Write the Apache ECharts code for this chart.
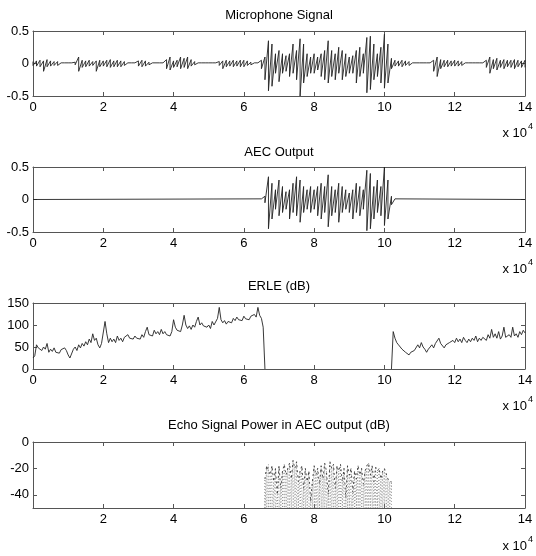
<!DOCTYPE html>
<html>
<head>
<meta charset="utf-8">
<script src="https://cdn.jsdelivr.net/npm/echarts@6/dist/echarts.min.js"></script>
<style>html,body{margin:0;padding:0;background:#fff}#c{width:536px;height:556px}</style>
</head>
<body>
<div id="c"></div>
<script>
// x values are in units of 1e4 samples
var titles = ['Microphone Signal', 'AEC Output', 'ERLE (dB)', 'Echo Signal Power in AEC output (dB)'];
var xTicks = [0, 2, 4, 6, 8, 10, 12, 14];

// Microphone signal envelope, one bin per 0.1e4 samples (0 .. 14)
var micStep = 0.1;
var micHi = [
  0.03,0.04,0.05,0.04,0.06,0.04,0.03,0.03,0.01,0.01,
  0.01,0.01,0.02,0.10,0.05,0.04,0.05,0.03,0.04,0.05,
  0.04,0.05,0.06,0.04,0.05,0.04,0.03,0.01,0.01,0.01,
  0.04,0.05,0.04,0.02,0.01,0.01,0.01,0.01,0.06,0.10,
  0.04,0.05,0.10,0.08,0.10,0.06,0.03,0.01,0.01,0.01,
  0.01,0.01,0.01,0.03,0.04,0.05,0.04,0.05,0.04,0.05,
  0.05,0.04,0.02,0.01,0.01,0.05,0.10,0.35,0.30,0.15,
  0.20,0.15,0.12,0.15,0.30,0.20,0.38,0.30,0.15,0.10,
  0.15,0.10,0.15,0.20,0.35,0.20,0.15,0.25,0.20,0.15,
  0.10,0.12,0.20,0.25,0.15,0.40,0.42,0.30,0.15,0.25,
  0.45,0.30,0.08,0.05,0.04,0.05,0.04,0.03,0.01,0.01,
  0.01,0.01,0.01,0.01,0.05,0.10,0.06,0.05,0.05,0.04,
  0.05,0.04,0.03,0.01,0.01,0.01,0.01,0.01,0.01,0.05,
  0.10,0.06,0.08,0.05,0.06,0.05,0.05,0.06,0.05,0.04,0.05
];
var micLo = [
  -0.03,-0.04,-0.05,-0.12,-0.05,-0.04,-0.03,-0.03,-0.01,-0.01,
  -0.01,-0.01,-0.02,-0.12,-0.06,-0.05,-0.04,-0.03,-0.12,-0.05,
  -0.04,-0.05,-0.06,-0.05,-0.05,-0.05,-0.03,-0.01,-0.01,-0.01,
  -0.04,-0.05,-0.04,-0.02,-0.01,-0.01,-0.01,-0.01,-0.08,-0.10,
  -0.06,-0.05,-0.08,-0.06,-0.08,-0.04,-0.02,-0.01,-0.01,-0.01,
  -0.01,-0.01,-0.01,-0.03,-0.08,-0.05,-0.04,-0.05,-0.04,-0.05,
  -0.05,-0.03,-0.02,-0.01,-0.01,-0.08,-0.25,-0.42,-0.35,-0.15,
  -0.28,-0.15,-0.12,-0.20,-0.15,-0.25,-0.50,-0.30,-0.20,-0.15,
  -0.15,-0.10,-0.20,-0.25,-0.30,-0.20,-0.25,-0.15,-0.25,-0.20,
  -0.15,-0.15,-0.30,-0.20,-0.15,-0.45,-0.40,-0.25,-0.20,-0.30,
  -0.38,-0.30,-0.08,-0.04,-0.04,-0.05,-0.03,-0.03,-0.01,-0.01,
  -0.01,-0.01,-0.01,-0.01,-0.12,-0.20,-0.08,-0.05,-0.05,-0.04,
  -0.04,-0.04,-0.03,-0.01,-0.01,-0.01,-0.01,-0.01,-0.01,-0.06,
  -0.15,-0.08,-0.10,-0.06,-0.08,-0.05,-0.06,-0.08,-0.05,-0.06,-0.06
];

// AEC output: active only 6.5 .. 10.3 (step 0.1), zero elsewhere
var aecStart = 6.5, aecStep = 0.1;
var aecHi = [0.01,0.05,0.35,0.25,0.15,0.30,0.20,0.12,0.15,0.25,0.35,0.30,0.20,0.15,0.20,0.15,0.20,0.25,0.20,0.38,0.20,0.15,0.25,0.20,0.15,0.10,0.15,0.25,0.20,0.15,0.45,0.40,0.20,0.30,0.20,0.50,0.30,0.05,0.01];
var aecLo = [-0.01,-0.05,-0.45,-0.30,-0.15,-0.25,-0.20,-0.15,-0.30,-0.20,-0.25,-0.35,-0.20,-0.15,-0.20,-0.15,-0.25,-0.30,-0.20,-0.42,-0.25,-0.20,-0.35,-0.20,-0.15,-0.20,-0.30,-0.20,-0.25,-0.15,-0.48,-0.45,-0.30,-0.20,-0.25,-0.40,-0.30,-0.08,-0.01];

// ERLE (dB): segment 1 from 0 to 6.6, segment 2 from 10.2 to 14 (step 0.05)
var erleStep = 0.05;
var erle1Start = 0;
var erle1 = [
  25,30,55,48,52,42,50,45,58,38,45,40,48,38,42,36,44,40,48,42,
  32,25,28,45,50,42,55,48,58,52,62,55,68,60,80,65,70,55,48,58,
  62,108,80,60,70,62,68,60,75,65,70,62,72,68,78,70,72,68,75,70,
  72,68,78,72,85,95,78,82,75,88,80,85,78,90,80,85,78,82,75,85,
  112,95,88,92,85,100,122,100,92,98,90,100,95,108,118,100,105,98,102,95,
  100,92,108,100,102,115,140,112,105,110,102,108,112,105,115,110,118,112,116,110,
  120,114,118,112,120,116,124,118,140,122,115,95,0
];
var erle2Start = 10.2;
var erle2 = [
  0,85,70,60,55,50,45,48,38,42,32,38,35,42,40,55,
  48,60,50,45,38,45,50,55,48,58,62,70,58,55,48,55,52,60,58,65,
  60,70,62,68,60,72,65,60,68,62,70,65,75,62,70,65,72,68,65,78,
  70,90,72,80,70,85,68,75,95,72,68,78,72,95,75,80,72,85,78,88,
  82
];

// Echo power (dB): peak per 0.05e4 bin from 6.6 to 10.2, floor at -50
var echoStart = 6.6, echoStep = 0.05, echoFloor = -50;
var echoTop = [
  -28,-18,-17,-25,-18,-30,-20,-40,
  -18,-35,-22,-17,-25,-20,-16,-28,-14,-20,-15,-30,-22,-18,-35,-20,-30,-22,-45,-30,
  -18,-25,-20,-32,-18,-28,-16,-22,-40,-15,-20,-17,-35,-18,-22,-17,-30,-20,-42,-18,
  -25,-20,-38,-22,-28,-18,-25,-20,-32,-22,-18,-16,-25,-18,-30,-19,-22,-20,-28,-22,
  -20,-24,-28,-30,-30
];

function r(v){ return Math.round(v * 1000) / 1000; }

var micData = [];
micHi.forEach(function(h, i){ var x = r(i * micStep); micData.push([x, h]); micData.push([x, micLo[i]]); });

var aecData = [[0, 0]];
aecHi.forEach(function(h, i){ var x = r(aecStart + i * aecStep); aecData.push([x, h]); aecData.push([x, aecLo[i]]); });
aecData.push([14, 0]);

var erleData = [];
erle1.forEach(function(v, i){ erleData.push([r(erle1Start + i * erleStep), v]); });
erleData.push([r((erle1Start + erle2Start) / 2), null]);
erle2.forEach(function(v, i){ erleData.push([r(erle2Start + i * erleStep), v]); });

var echoData = [];
echoTop.forEach(function(v, i){ var x = r(echoStart + i * echoStep); echoData.push([x, echoFloor]); echoData.push([x, v]); echoData.push([x, echoFloor]); });
var echoTops = echoTop.map(function(v, i){ return [r(echoStart + i * echoStep), v]; });

var grids = [
  {left: 33, right: 11, top: 31, height: 65},
  {left: 33, right: 11, top: 167, height: 65},
  {left: 33, right: 11, top: 303, height: 66},
  {left: 33, right: 11, top: 442, height: 66}
];
var yCfg = [
  {min: -0.5, max: 0.5, interval: 0.5},
  {min: -0.5, max: 0.5, interval: 0.5},
  {min: 0, max: 150, interval: 50},
  {min: -50, max: 0, custom: [-40, -20, 0]}
];

var lineCol = '#555';
var font = '"Liberation Sans", Arial, Helvetica, sans-serif';
var xAxes = [], yAxes = [];
grids.forEach(function(g, i){
  var base = {gridIndex: i, type: 'value', min: 0, max: 14, interval: 2,
    axisLine: {show: true, onZero: false, lineStyle: {color: lineCol, width: 1}},
    axisTick: {show: true, inside: true, length: 4, lineStyle: {color: lineCol}},
    splitLine: {show: false}};
  xAxes.push(Object.assign({}, base, {position: 'bottom',
    axisLabel: {show: true, color: '#000', fontSize: 13, fontFamily: font, margin: 5,
      formatter: function(v){ return (i === 3 && v === 0) ? '' : String(v); }}}));
  xAxes.push(Object.assign({}, base, {position: 'top', axisLabel: {show: false}}));
  var yc = yCfg[i];
  var yb = {gridIndex: i, type: 'value', min: yc.min, max: yc.max,
    axisLine: {show: true, onZero: false, lineStyle: {color: lineCol, width: 1}},
    splitLine: {show: false}};
  if (yc.interval) yb.interval = yc.interval;
  var tick = {show: true, inside: true, length: 4, lineStyle: {color: lineCol}};
  if (yc.custom) tick.customValues = yc.custom;
  var lab = {show: true, color: '#000', fontSize: 13, fontFamily: font, margin: 4};
  if (yc.custom) lab.customValues = yc.custom;
  yAxes.push(Object.assign({}, yb, {position: 'left', axisTick: tick, axisLabel: lab}));
  yAxes.push(Object.assign({}, yb, {position: 'right', axisTick: tick, axisLabel: {show: false}}));
});

var titleY = [15, 152, 286, 425];
var expY = [133, 269, 406, 546];
var texts = [];
titles.forEach(function(t, i){
  texts.push({type: 'text', x: 279, y: titleY[i], silent: true,
    style: {text: t, fill: '#000', font: '13px ' + font, textAlign: 'center', textVerticalAlign: 'middle'}});
  texts.push({type: 'text', x: 527, y: expY[i], silent: true,
    style: {text: 'x 10', fill: '#000', font: '13px ' + font, textAlign: 'right', textVerticalAlign: 'middle'}});
  texts.push({type: 'text', x: 528, y: expY[i] - 6, silent: true,
    style: {text: '4', fill: '#000', font: '9px ' + font, textAlign: 'left', textVerticalAlign: 'middle'}});
});

var option = {
  animation: false,
  backgroundColor: '#fff',
  grid: grids,
  xAxis: xAxes,
  yAxis: yAxes,
  graphic: texts,
  series: [
    {type: 'line', xAxisIndex: 0, yAxisIndex: 0, data: micData, showSymbol: false, lineStyle: {color: '#222', width: 0.9}},
    {type: 'line', xAxisIndex: 2, yAxisIndex: 2, data: aecData, showSymbol: false, lineStyle: {color: '#222', width: 0.9}},
    {type: 'line', xAxisIndex: 4, yAxisIndex: 4, data: erleData, showSymbol: false, connectNulls: false, lineStyle: {color: '#222', width: 0.9}},
    {type: 'line', xAxisIndex: 6, yAxisIndex: 6, data: echoData, showSymbol: false, lineStyle: {color: '#777', width: 0.7, type: [1, 2]}},
    {type: 'line', xAxisIndex: 6, yAxisIndex: 6, data: echoTops, showSymbol: false, lineStyle: {color: '#222', width: 0.8, type: [2, 3]}}
  ]
};
var chart = echarts.init(document.getElementById('c'), null, {renderer: 'canvas'});
chart.setOption(option);
</script>
</body>
</html>
